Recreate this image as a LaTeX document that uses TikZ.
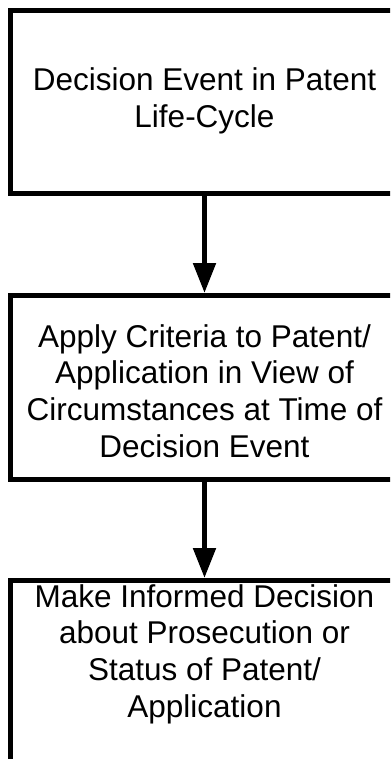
\documentclass[tikz,border=0pt]{standalone}
\usepackage{fontspec}
\setmainfont{Liberation Sans}
\usetikzlibrary{arrows.meta}
\begin{document}
\begin{tikzpicture}[x=1bp,y=-1bp,
  stepbox/.style={draw=black, line width=5bp, inner sep=0pt, minimum width=388bp},
  boxtext/.style={font=\fontsize{31.5bp}{36.7bp}\selectfont, align=center, inner sep=0pt},
  flow/.style={line width=5bp, -{Triangle[width=22bp,length=30bp]}}]
\useasboundingbox (0,0) rectangle (390,759);
\clip (0,0) rectangle (390,759);
\node[stepbox, minimum height=183bp] (b1) at (204.5,102) {};
\node[stepbox, minimum height=184bp] (b2) at (204.5,387.5) {};
\node[stepbox, minimum height=190bp] (b3) at (204.5,675.5) {};
\node[boxtext] (t1) at (204.5,101) {Decision Event in Patent\\Life-Cycle};
\node[boxtext] (t2) at (204.5,391) {Apply Criteria to Patent/\\Application in View of\\Circumstances at Time of\\Decision Event};
\node[boxtext] (t3) at (204.5,654) {Make Informed Decision\\about Prosecution or\\Status of Patent/\\Application};
\draw[flow] (b1.south) -- (b2.north);
\draw[flow] (b2.south) -- (b3.north);
\end{tikzpicture}
\end{document}
